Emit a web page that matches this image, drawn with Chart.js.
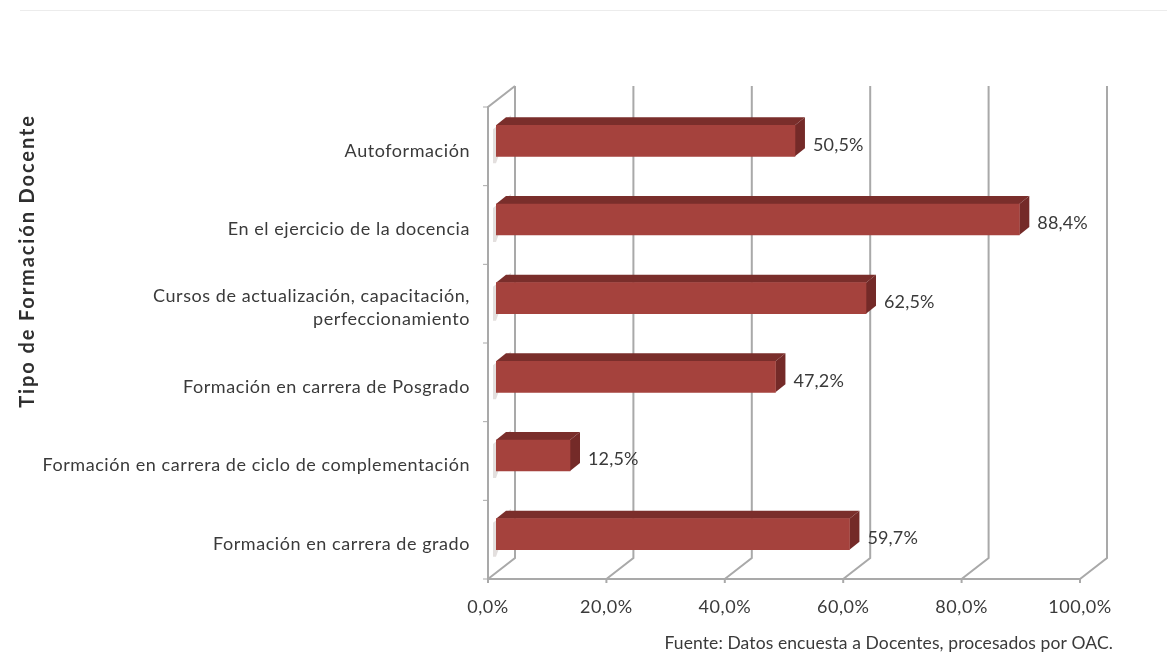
<!DOCTYPE html>
<html lang="es">
<head>
<meta charset="utf-8">
<title>Tipo de Formación Docente</title>
<script src="https://cdn.jsdelivr.net/npm/chart.js@4"></script>
<style>
  html, body { margin: 0; padding: 0; background: #fff; }
  #wrap { position: relative; width: 1167px; height: 661px; overflow: hidden; }
  #topline { position: absolute; left: 20px; right: 0; top: 10px; height: 1px; background: #ececec; }
</style>
</head>
<body>
<div id="wrap">
  <div id="topline"></div>
  <canvas id="chart" width="1167" height="661"></canvas>
</div>
<script>
const categories = [
    'Autoformación',
    'En el ejercicio de la docencia',
    ['Cursos de actualización, capacitación,', 'perfeccionamiento'],
    'Formación en carrera de Posgrado',
    'Formación en carrera de ciclo de complementación',
    'Formación en carrera de grado'
];
const percentages = [50.5, 88.4, 62.5, 47.2, 12.5, 59.7];
const axisTicks = [0, 20, 40, 60, 80, 100];
const axisTitle = 'Tipo de Formación Docente';
const sourceNote = 'Fuente: Datos encuesta a Docentes, procesados por OAC.';

const FONT = 'Lato, sans-serif';
const TEXT_COLOR = '#3a3a3a';
const GRID_COLOR = '#a9a9a9';

// Spanish decimal comma
function formatPct(v) {
    return v.toFixed(1).replace('.', ',') + '%';
}

// Fake 3D box: walls and floor behind the bars, extruded faces on the bars
const wallDepth = { x: 27, y: -21 };
const barShift = { x: 8, y: -10 };
const barDepth = { x: 10, y: -8 };
const labelLift = 4.5; // category labels sit a little under the band centre

const box3d = {
    id: 'box3d',
    beforeDraw(chart) {
        // slight tracking for the axis text
        chart.ctx.letterSpacing = '0.56px';
    },
    beforeDatasetsDraw(chart) {
        const { ctx, scales: { x, y } } = chart;
        const top = y.top - labelLift;
        const floor = y.bottom - labelLift;
        const band = (floor - top) / categories.length;

        ctx.save();
        ctx.strokeStyle = GRID_COLOR;
        ctx.lineWidth = 2;

        // back wall gridlines, running down and forward over the floor
        axisTicks.forEach(t => {
            const px = x.getPixelForValue(t);
            ctx.beginPath();
            ctx.moveTo(px + wallDepth.x, top + wallDepth.y);
            ctx.lineTo(px + wallDepth.x, floor + wallDepth.y);
            ctx.lineTo(px, floor);
            ctx.stroke();
            // tick under the floor edge
            ctx.beginPath();
            ctx.moveTo(px, floor);
            ctx.lineTo(px, floor + 4);
            ctx.stroke();
        });

        // left wall outline and front floor edge
        const left = x.getPixelForValue(0);
        const right = x.getPixelForValue(100);
        ctx.beginPath();
        ctx.moveTo(left + wallDepth.x, top + wallDepth.y);
        ctx.lineTo(left, top);
        ctx.lineTo(left, floor);
        ctx.lineTo(right, floor);
        ctx.stroke();

        // category ticks on the left wall
        ctx.lineWidth = 1;
        for (let i = 0; i <= categories.length; i++) {
            ctx.beginPath();
            ctx.moveTo(left - 5, top + band * i);
            ctx.lineTo(left, top + band * i);
            ctx.stroke();
        }

        // pale bar shadows cast on the left wall
        chart.getDatasetMeta(0).data.forEach(bar => {
            const h = bar.height / 2;
            const sx = left + barShift.x;
            const sy = bar.y + barShift.y;
            ctx.fillStyle = '#e3dfde';
            ctx.beginPath();
            ctx.moveTo(sx - 3, sy - h + 4);
            ctx.lineTo(sx + barDepth.x + 5, sy - h + barDepth.y - 2);
            ctx.lineTo(sx + barDepth.x + 5, sy - h + barDepth.y + 4);
            ctx.lineTo(sx, sy + h + 7);
            ctx.lineTo(sx - 3, sy + h + 7);
            ctx.closePath();
            ctx.fill();
        });
        ctx.restore();
    },
    beforeDatasetDraw(chart) {
        const ctx = chart.ctx;
        ctx.save();
        ctx.translate(barShift.x, barShift.y);
        chart.getDatasetMeta(0).data.forEach(bar => {
            const h = bar.height / 2;
            const x0 = bar.base;
            const x1 = bar.x;
            const y0 = bar.y - h;
            const y1 = bar.y + h;
            // top face
            ctx.fillStyle = '#7a2e2b';
            ctx.beginPath();
            ctx.moveTo(x0, y0);
            ctx.lineTo(x0 + barDepth.x, y0 + barDepth.y);
            ctx.lineTo(x1 + barDepth.x, y0 + barDepth.y);
            ctx.lineTo(x1, y0);
            ctx.closePath();
            ctx.fill();
            // end face
            ctx.fillStyle = '#742a28';
            ctx.beginPath();
            ctx.moveTo(x1, y0);
            ctx.lineTo(x1 + barDepth.x, y0 + barDepth.y);
            ctx.lineTo(x1 + barDepth.x, y1 + barDepth.y);
            ctx.lineTo(x1, y1);
            ctx.closePath();
            ctx.fill();
        });
    },
    afterDatasetDraw(chart) {
        chart.ctx.restore();
    },
    afterDatasetsDraw(chart) {
        const ctx = chart.ctx;
        ctx.save();
        ctx.fillStyle = TEXT_COLOR;
        ctx.font = '18px ' + FONT;
        ctx.textAlign = 'left';
        ctx.textBaseline = 'middle';
        ctx.letterSpacing = '0.15px';
        // value labels just past the end of each bar
        chart.getDatasetMeta(0).data.forEach((bar, i) => {
            ctx.fillText(formatPct(percentages[i]), bar.x + barShift.x + 18, bar.y + barShift.y + 4);
        });
        // source note, bottom right
        ctx.font = '17.5px ' + FONT;
        ctx.textAlign = 'right';
        ctx.letterSpacing = '0.1px';
        ctx.fillText(sourceNote, 1113, 643);
        // axis title
        ctx.font = 'bold 20px ' + FONT;
        ctx.fillStyle = '#2f2f2f';
        ctx.letterSpacing = '1.9px';
        ctx.textAlign = 'center';
        ctx.translate(28, 261);
        ctx.rotate(-Math.PI / 2);
        ctx.fillText(axisTitle, 0, 0);
        ctx.restore();
    }
};

new Chart(document.getElementById('chart').getContext('2d'), {
    type: 'bar',
    data: {
        labels: categories,
        datasets: [{
            data: percentages,
            backgroundColor: '#a5423d',
            barThickness: 31,
            borderWidth: 0
        }]
    },
    options: {
        indexAxis: 'y',
        responsive: false,
        animation: false,
        layout: { padding: { top: 111.5, right: 87, bottom: 0, left: 0 } },
        plugins: {
            legend: { display: false },
            title: { display: false },
            tooltip: { enabled: false }
        },
        scales: {
            x: {
                min: 0,
                max: 100,
                afterBuildTicks: axis => { axis.ticks = axisTicks.map(value => ({ value })); },
                afterFit: axis => { axis.height = 77.5; },
                grid: { display: false },
                border: { display: false },
                ticks: {
                    color: TEXT_COLOR,
                    font: { family: FONT, size: 18 },
                    padding: 5,
                    maxRotation: 0,
                    callback: v => formatPct(v)
                }
            },
            y: {
                afterFit: axis => { axis.width = 488; },
                grid: { display: false },
                border: { display: false },
                ticks: {
                    color: TEXT_COLOR,
                    font: { family: FONT, size: 18, lineHeight: 1.28 },
                    padding: 10,
                    autoSkip: false
                }
            }
        }
    },
    plugins: [box3d]
});
</script>
</body>
</html>
